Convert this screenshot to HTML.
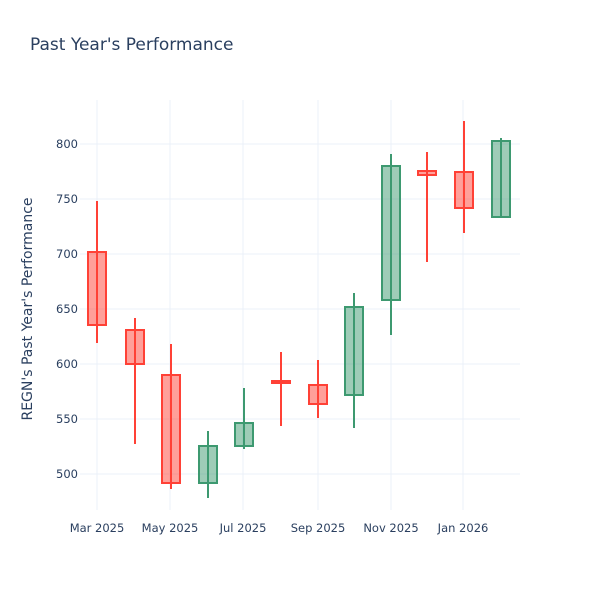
<!DOCTYPE html>
<html><head><style>body{margin:0;background:#fff}svg{display:block}text{font-family:"DejaVu Sans","Liberation Sans",sans-serif;fill:#2a3f5f}</style></head><body>
<svg width="600" height="600" xmlns="http://www.w3.org/2000/svg">
<rect width="600" height="600" fill="#fff"/>
<text x="30" y="50" font-size="17">Past Year's Performance</text>
<g stroke="#ebf0f8" stroke-width="1">
<line x1="80" x2="520" y1="144" y2="144"/><line x1="80" x2="520" y1="199" y2="199"/><line x1="80" x2="520" y1="254" y2="254"/><line x1="80" x2="520" y1="309" y2="309"/><line x1="80" x2="520" y1="364" y2="364"/><line x1="80" x2="520" y1="419" y2="419"/><line x1="80" x2="520" y1="474" y2="474"/>
<line x1="97" x2="97" y1="100" y2="510"/><line x1="170" x2="170" y1="100" y2="510"/><line x1="243" x2="243" y1="100" y2="510"/><line x1="318" x2="318" y1="100" y2="510"/><line x1="391" x2="391" y1="100" y2="510"/><line x1="463" x2="463" y1="100" y2="510"/>
</g>
<g font-size="11.5" text-anchor="end">
<text x="78" y="148">800</text><text x="78" y="203">750</text><text x="78" y="258">700</text><text x="78" y="313">650</text><text x="78" y="368">600</text><text x="78" y="423">550</text><text x="78" y="478">500</text>
</g>
<g font-size="11.5" text-anchor="middle">
<text x="97" y="532">Mar 2025</text><text x="170" y="532">May 2025</text><text x="243" y="532">Jul 2025</text><text x="318" y="532">Sep 2025</text><text x="391" y="532">Nov 2025</text><text x="463" y="532">Jan 2026</text>
</g>
<text transform="translate(32,309) rotate(-90)" font-size="14" text-anchor="middle">REGN's Past Year's Performance</text>
<g stroke-width="2">
<g stroke="#FF4136" fill="rgba(255,65,54,0.5)">
<line x1="97" x2="97" y1="201" y2="343"/><rect x="88" y="252" width="18" height="73"/>
<line x1="135" x2="135" y1="318" y2="444"/><rect x="126" y="330" width="18" height="34"/>
<line x1="171" x2="171" y1="344" y2="489"/><rect x="162" y="375" width="18" height="108"/>
<line x1="281" x2="281" y1="352" y2="426"/><rect x="272" y="381" width="18" height="2"/>
<line x1="318" x2="318" y1="360" y2="418"/><rect x="309" y="385" width="18" height="19"/>
<line x1="427" x2="427" y1="152" y2="262"/><rect x="418" y="171" width="18" height="4"/>
<line x1="464" x2="464" y1="121" y2="233"/><rect x="455" y="172" width="18" height="36"/>
</g>
<g stroke="#3D9970" fill="rgba(61,153,112,0.5)">
<line x1="208" x2="208" y1="431" y2="498"/><rect x="199" y="446" width="18" height="37"/>
<line x1="244" x2="244" y1="388" y2="449"/><rect x="235" y="423" width="18" height="23"/>
<line x1="354" x2="354" y1="293" y2="428"/><rect x="345" y="307" width="18" height="88"/>
<line x1="391" x2="391" y1="154" y2="335"/><rect x="382" y="166" width="18" height="134"/>
<line x1="501" x2="501" y1="138" y2="218"/><rect x="492" y="141" width="18" height="76"/>
</g>
</g>
</svg>
</body></html>
